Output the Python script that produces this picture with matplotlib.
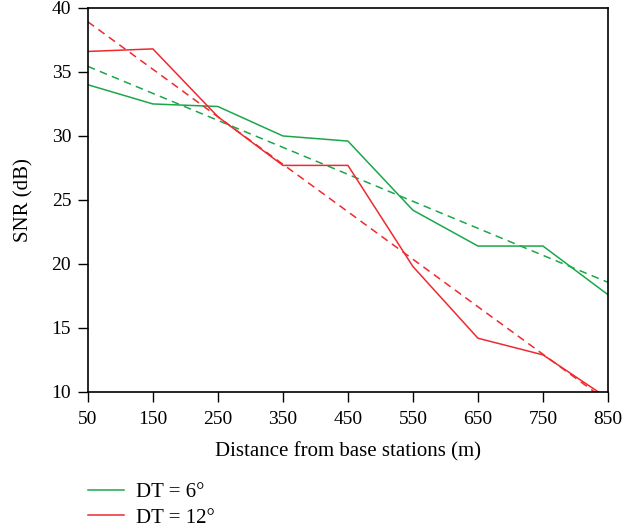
import numpy as np
import matplotlib
matplotlib.use('Agg')
import matplotlib.pyplot as plt

# data
distance = [50, 150, 250, 350, 450, 550, 650, 750, 850]
snr_dt6 = [34.0, 32.5, 32.3, 30.0, 29.6, 24.2, 21.4, 21.4, 17.6]
snr_dt12 = [36.6, 36.8, 31.5, 27.7, 27.7, 19.8, 14.2, 12.9, 9.5]
labels = ['DT = 6°', 'DT = 12°']

green = '#1ca64a'
red = '#ee2a2f'

plt.rcParams['font.family'] = ['Liberation Serif', 'DejaVu Serif']

fig = plt.figure(figsize=(6.32, 5.29), dpi=100)
ax = fig.add_axes([0.139, 0.259, 0.823, 0.726])

x = np.array(distance)
for y, c, lab in [(snr_dt6, green, labels[0]), (snr_dt12, red, labels[1])]:
    ax.plot(x, y, color=c, lw=1.1, label=lab)
    # linear trend line
    k, b = np.polyfit(x, y, 1)
    ax.plot(x, k * x + b, color=c, lw=1.1, ls=(0, (5, 3.5)))

ax.set_xlim(50, 850)
ax.set_ylim(10, 40)
ax.set_xticks(distance)
ax.set_yticks([10, 15, 20, 25, 30, 35, 40])
ax.tick_params(axis='both', direction='out', length=7, width=1, labelsize=14, pad=5,
               top=False, right=False)
ax.tick_params(axis='x', pad=7)
for s in ax.spines.values():
    s.set_linewidth(1.2)
ax.set_xlabel('Distance from base stations (m)', fontsize=15, labelpad=10)
ax.set_ylabel('SNR (dB)', fontsize=15, labelpad=13)

ax.legend(loc='upper left', bbox_to_anchor=(0.0, -0.235), frameon=False, fontsize=15,
          borderpad=0, borderaxespad=0,
          handlelength=1.75, handletextpad=0.55, labelspacing=0.3)

fig.savefig('out.png', dpi=100)
